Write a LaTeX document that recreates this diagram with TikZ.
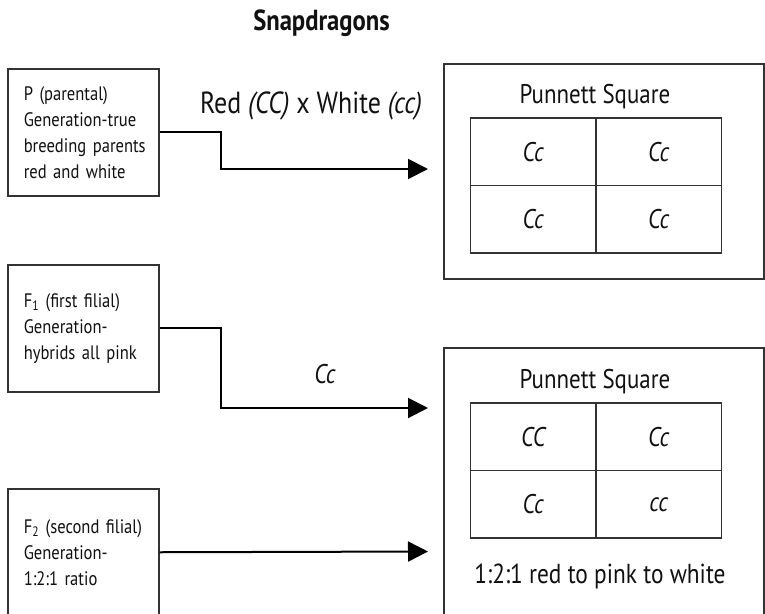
\documentclass[tikz,border=0pt]{standalone}
\usepackage{fontspec}
\setmainfont{PT Sans}[FakeStretch=0.85]
\usetikzlibrary{arrows.meta}
\definecolor{boxline}{HTML}{333333}
\definecolor{ink}{HTML}{111111}
\begin{document}
\begin{tikzpicture}[x=1pt,y=-1pt,
  genbox/.style={draw=boxline, line width=1.5pt, anchor=north west,
    minimum width=151pt, minimum height=127pt, text width=119pt,
    inner xsep=16pt, align=left, text=ink, font=\fontsize{19.5}{26}\selectfont},
  pbox/.style={draw=boxline, line width=1.5pt, anchor=north west, minimum width=320pt},
  cell/.style={draw=boxline, line width=1.5pt, minimum width=125.5pt, minimum height=67.5pt,
    inner sep=0pt, text=ink, font=\fontsize{27}{30}\selectfont\itshape},
  bigtext/.style={anchor=base, text=ink, inner sep=0pt, font=\fontsize{27}{30}\selectfont},
  arr/.style={draw=black, line width=2pt, -{Triangle[length=20pt,width=20pt]}}
]
\clip (0,0) rectangle (765,613);
\fill[white] (0,0) rectangle (765,613);

% title
\node[bigtext, font=\fontsize{29}{32}\selectfont\bfseries] (title) at (321.5,30) {Snapdragons};

% generation boxes
\node[genbox] (P) at (7,68) {\mbox{P (parental)}\\\mbox{Generation-true}\\\mbox{breeding parents}\\\mbox{red and white}};
\node[genbox] (F1) at (7,264) {\mbox{F\textsubscript{1} (first filial)}\\\mbox{Generation-}\\\mbox{hybrids all pink}};
\node[genbox] (F2) at (7,488) {\mbox{F\textsubscript{2} (second filial)}\\\mbox{Generation-}\\\mbox{1:2:1 ratio}};

% Punnett square 1
\node[pbox, minimum height=215pt] (S1) at (443,63) {};
\node[bigtext] (T1) at (595,103) {Punnett Square};
\node[cell] (c11) at (533.25,151.75) {Cc};
\node[cell] (c12) at (658.75,151.75) {Cc};
\node[cell] (c21) at (533.25,219.25) {Cc};
\node[cell] (c22) at (658.75,219.25) {Cc};

% Punnett square 2
\node[pbox, minimum height=290pt] (S2) at (443,347) {};
\node[bigtext] (T2) at (595,388) {Punnett Square};
\node[cell] (d11) at (533.25,436.75) {CC};
\node[cell] (d12) at (658.75,436.75) {Cc};
\node[cell] (d21) at (533.25,504.25) {Cc};
\node[cell] (d22) at (658.75,504.25) {cc};
\node[bigtext, font=\fontsize{27.5}{30}\selectfont] (ratio) at (600,583) {1:2:1 red to pink to white};

% labels
\node[bigtext, font=\fontsize{30.5}{33}\selectfont] (cross) at (311,113) {Red \textit{(CC)} x White \textit{(cc)}};
\node[bigtext, font=\fontsize{27}{30}\selectfont\itshape] (f1lab) at (325,383) {Cc};

% connectors
\coordinate (a1) at (428,169);
\coordinate (a2) at (428,408);
\coordinate (a3) at (428,551.5);
\draw[arr] (P.east) -- ++(61,0) |- (a1);
\draw[arr] (F1.east) -- ++(61,0) |- (a2);
\draw[arr] (F2.east) -- (a3);
\end{tikzpicture}
\end{document}
